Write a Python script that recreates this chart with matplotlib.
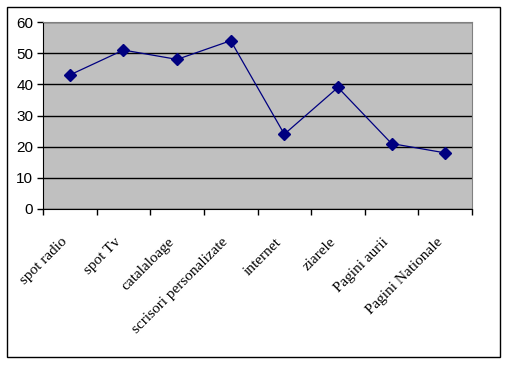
import matplotlib
matplotlib.use("Agg")
import matplotlib.pyplot as plt
import matplotlib.transforms as mtransforms
from matplotlib.patches import Rectangle
import numpy as np

categories = ["spot radio", "spot Tv", "catalaloage", "scrisori personalizate",
              "internet", "ziarele", "Pagini aurii", "Pagini Nationale"]
values = [43, 51, 48, 54, 24, 39, 21, 18]
y_ticks = [0, 10, 20, 30, 40, 50, 60]

W, H = 509, 365
fig = plt.figure(figsize=(W / 100, H / 100), dpi=100)
fig.patch.set_facecolor("white")

# outer chart border
fig.add_artist(Rectangle((7 / W, 8 / H), 493 / W, 350 / H, transform=fig.transFigure,
                         fill=False, edgecolor="black", linewidth=1))

ax = fig.add_axes([43 / W, 156 / H, 429 / W, 187 / H])
ax.set_facecolor("#C0C0C0")

x = np.arange(len(categories))
ax.plot(x, values, color="#000080", linewidth=0.9, marker="D", markersize=6,
        markerfacecolor="#000080", markeredgecolor="#000080", zorder=3)

ax.set_xlim(-0.5, len(categories) - 0.5)
ax.set_ylim(0, 60)
ax.set_yticks(y_ticks)
ax.yaxis.grid(True, color="black", linewidth=1)
ax.set_axisbelow(True)

ax.set_xticks(x)
ax.set_xticklabels(categories, rotation=45, ha="right", va="top",
                   fontfamily="Liberation Serif", fontsize=11)
shift = mtransforms.ScaledTranslation(-5 / 100, 0, fig.dpi_scale_trans)
for lab in ax.get_xticklabels():
    lab.set_transform(lab.get_transform() + shift)
ax.set_xticks(np.arange(-0.5, len(categories)), minor=True)
ax.tick_params(axis="x", which="major", length=0, pad=19)
ax.tick_params(axis="x", which="minor", length=4, direction="out", width=1)
ax.tick_params(axis="y", length=4, direction="out", width=1, pad=3)
for lab in ax.get_yticklabels():
    lab.set_fontfamily("Liberation Sans")
    lab.set_fontsize(11)

ax.spines["left"].set_color("black")
ax.spines["bottom"].set_color("black")
ax.spines["top"].set_color("#808080")
ax.spines["right"].set_color("#808080")

fig.savefig("out.png", dpi=100)
